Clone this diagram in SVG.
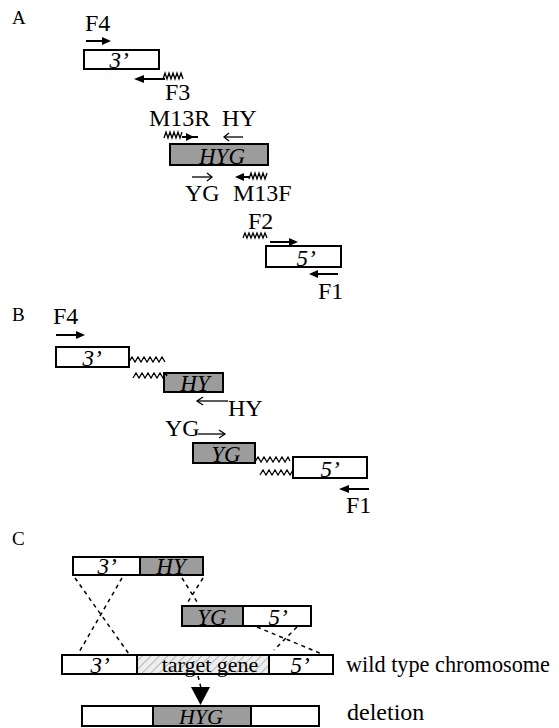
<svg xmlns="http://www.w3.org/2000/svg" width="559" height="728" viewBox="0 0 559 728">
<style>
.lab{font-family:"Liberation Serif","Times New Roman",serif;font-size:24px;fill:#000}
.sec{font-family:"Liberation Serif","Times New Roman",serif;font-size:19px;fill:#000}
.in{font-family:"Liberation Serif","Times New Roman",serif;font-size:23px;font-style:italic;fill:#000;text-anchor:middle}
.inn{font-family:"Liberation Serif","Times New Roman",serif;font-size:22px;fill:#000;text-anchor:middle}
.w{fill:#fff;stroke:#000;stroke-width:2}
.g{fill:#9c9c9c;stroke:#000;stroke-width:2}
.h{fill:url(#hatch);stroke:#000;stroke-width:2}
.ln{stroke:#000;stroke-width:2;fill:none}
.thin{stroke:#000;stroke-width:1.3;fill:none}
.zz{stroke:#000;stroke-width:1.3;fill:none}
.dash{stroke:#000;stroke-width:1.5;stroke-dasharray:4 4;fill:none}
</style>
<defs>
<pattern id="hatch" width="6" height="6" patternUnits="userSpaceOnUse" patternTransform="rotate(45)">
<rect width="6" height="6" fill="#eeeeee"/>
<line x1="0" y1="0" x2="0" y2="6" stroke="#b5b5b5" stroke-width="2"/>
</pattern>
</defs>

<text class="sec" x="12" y="24">A</text>
<text class="sec" x="12" y="321">B</text>
<text class="sec" x="12" y="545">C</text>

<g id="A-3prime"><rect class="w" x="84" y="50" width="75" height="19"/><text class="in" x="119" y="68">3’</text></g>
<g id="A-HYG"><rect class="g" x="170" y="144" width="98" height="21"/><text class="in" x="222" y="164">HYG</text></g>
<g id="A-5prime"><rect class="w" x="266" y="246" width="75" height="21"/><text class="in" x="306" y="266">5’</text></g>

<g id="A-primers">
<text class="lab" x="85" y="31">F4</text>
<line class="ln" x1="86" y1="41" x2="104" y2="41"/><polygon points="111,41 102,37 102,45"/>
<line class="ln" x1="142" y1="79" x2="165" y2="79"/><polygon points="134,79 144,75 144,83"/>
<path class="zz" d="M163,79 l2,-6 l2,6 l2,-6 l2,6 l2,-6 l2,6 l2,-6 l2,6 l2,-6 l2,6"/>
<text class="lab" x="165" y="100">F3</text>
<text class="lab" x="149" y="126">M13R</text>
<text class="lab" x="222" y="126">HY</text>
<path class="zz" d="M164,138 l2,-6 l2,6 l2,-6 l2,6 l2,-6 l2,6 l2,-6 l2,6 l2,-6"/>
<line class="ln" x1="182" y1="137" x2="198" y2="137"/><polygon points="194,137 186,133 186,141"/>
<line class="thin" x1="224" y1="137" x2="243" y2="137"/><polyline class="thin" points="229,133 224,137 229,141"/>
<line class="thin" x1="192" y1="177" x2="212" y2="177"/><polyline class="thin" points="207,173 212,177 207,181"/>
<line class="ln" x1="238" y1="177" x2="250" y2="177"/><polygon points="235,177 244,173 244,181"/>
<path class="zz" d="M249,179 l2,-6 l2,6 l2,-6 l2,6 l2,-6 l2,6 l2,-6 l2,6 l2,-6"/>
<text class="lab" x="185" y="201">YG</text>
<text class="lab" x="233" y="201">M13F</text>
<text class="lab" x="248" y="229">F2</text>
<path class="zz" d="M243,238 l2,-5 l2,5 l2,-5 l2,5 l2,-5 l2,5 l2,-5 l2,5 l2,-5 l2,5 l2,-5 l2,5"/>
<line class="ln" x1="270" y1="242" x2="292" y2="242"/><polygon points="298,242 289,238 289,246"/>
<line class="ln" x1="316" y1="274" x2="338" y2="274"/><polygon points="309,274 318,270 318,278"/>
<text class="lab" x="318" y="299">F1</text>
</g>

<g id="B-3prime"><rect class="w" x="56" y="347" width="73" height="20"/><text class="in" x="92" y="366">3’</text></g>
<g id="B-HY"><rect class="g" x="164" y="373" width="59" height="19"/><text class="in" x="195" y="391">HY</text></g>
<g id="B-YG"><rect class="g" x="193" y="443" width="62" height="20"/><text class="in" x="226" y="462">YG</text></g>
<g id="B-5prime"><rect class="w" x="293" y="457" width="74" height="21"/><text class="in" x="330" y="477">5’</text></g>

<g id="B-primers">
<text class="lab" x="53" y="324">F4</text>
<line class="ln" x1="56" y1="335" x2="78" y2="335"/><polygon points="85,335 76,331 76,339"/>
<path class="zz" d="M129,362 l3,-5 l3,5 l3,-5 l3,5 l3,-5 l3,5 l3,-5 l3,5 l3,-5 l3,5 l3,-5 l3,5"/>
<path class="zz" d="M133,378 l3,-5 l3,5 l3,-5 l3,5 l3,-5 l3,5 l3,-5 l3,5 l3,-5 l3,5 l3,-5 l1,3"/>
<line class="thin" x1="197" y1="401" x2="228" y2="401"/><polyline class="thin" points="203,397 197,401 203,405"/>
<text class="lab" x="228" y="416">HY</text>
<text class="lab" x="165" y="436">YG</text>
<line class="thin" x1="198" y1="434" x2="225" y2="434"/><polyline class="thin" points="219,430 225,434 219,438"/>
<path class="zz" d="M255,462 l3,-5 l3,5 l3,-5 l3,5 l3,-5 l3,5 l3,-5 l3,5 l3,-5 l3,5 l3,-5 l2,4"/>
<path class="zz" d="M260,475 l3,-5 l3,5 l3,-5 l3,5 l3,-5 l3,5 l3,-5 l3,5 l3,-5 l3,5 l3,-5"/>
<line class="ln" x1="347" y1="489" x2="369" y2="489"/><polygon points="339,489 349,485 349,493"/>
<text class="lab" x="346" y="513">F1</text>
</g>

<g id="C-row1">
<rect class="w" x="73" y="557" width="67" height="18"/><text class="in" x="107" y="574">3’</text>
<rect class="g" x="140" y="557" width="63" height="18"/><text class="in" x="171" y="574">HY</text>
</g>
<g id="C-row2">
<rect class="g" x="182" y="606" width="61" height="20"/><text class="in" x="212" y="625">YG</text>
<rect class="w" x="243" y="606" width="68" height="20"/><text class="in" x="278" y="625">5’</text>
</g>
<g id="C-wildtype">
<rect class="w" x="62" y="655" width="75" height="19"/><text class="in" x="100" y="673">3’</text>
<rect class="h" x="137" y="655" width="132" height="19"/><text class="inn" x="210" y="672">target gene</text>
<rect class="w" x="269" y="655" width="64" height="19"/><text class="in" x="300" y="673">5’</text>
<text class="lab" x="346" y="672" style="font-size:23px" textLength="204" lengthAdjust="spacingAndGlyphs">wild type chromosome</text>
</g>
<g id="C-deletion">
<rect class="w" x="82" y="706" width="71" height="20"/>
<rect class="g" x="153" y="706" width="98" height="20"/><text class="in" x="201" y="724" style="font-size:22px">HYG</text>
<rect class="w" x="251" y="706" width="68" height="20"/>
<text class="lab" x="347" y="720">deletion</text>
</g>
<g id="connectors">
<line class="dash" x1="75" y1="578" x2="129" y2="654"/>
<line class="dash" x1="122" y1="578" x2="78" y2="654"/>
<line class="dash" x1="182" y1="578" x2="199" y2="605"/>
<line class="dash" x1="203" y1="578" x2="186" y2="605"/>
<line class="dash" x1="257" y1="627" x2="322" y2="654"/>
<line class="dash" x1="297" y1="627" x2="274" y2="650"/>
<line class="dash" x1="198" y1="676" x2="201" y2="688"/>
<polygon points="191,687 210,687 200.5,705"/>
</g>
</svg>
